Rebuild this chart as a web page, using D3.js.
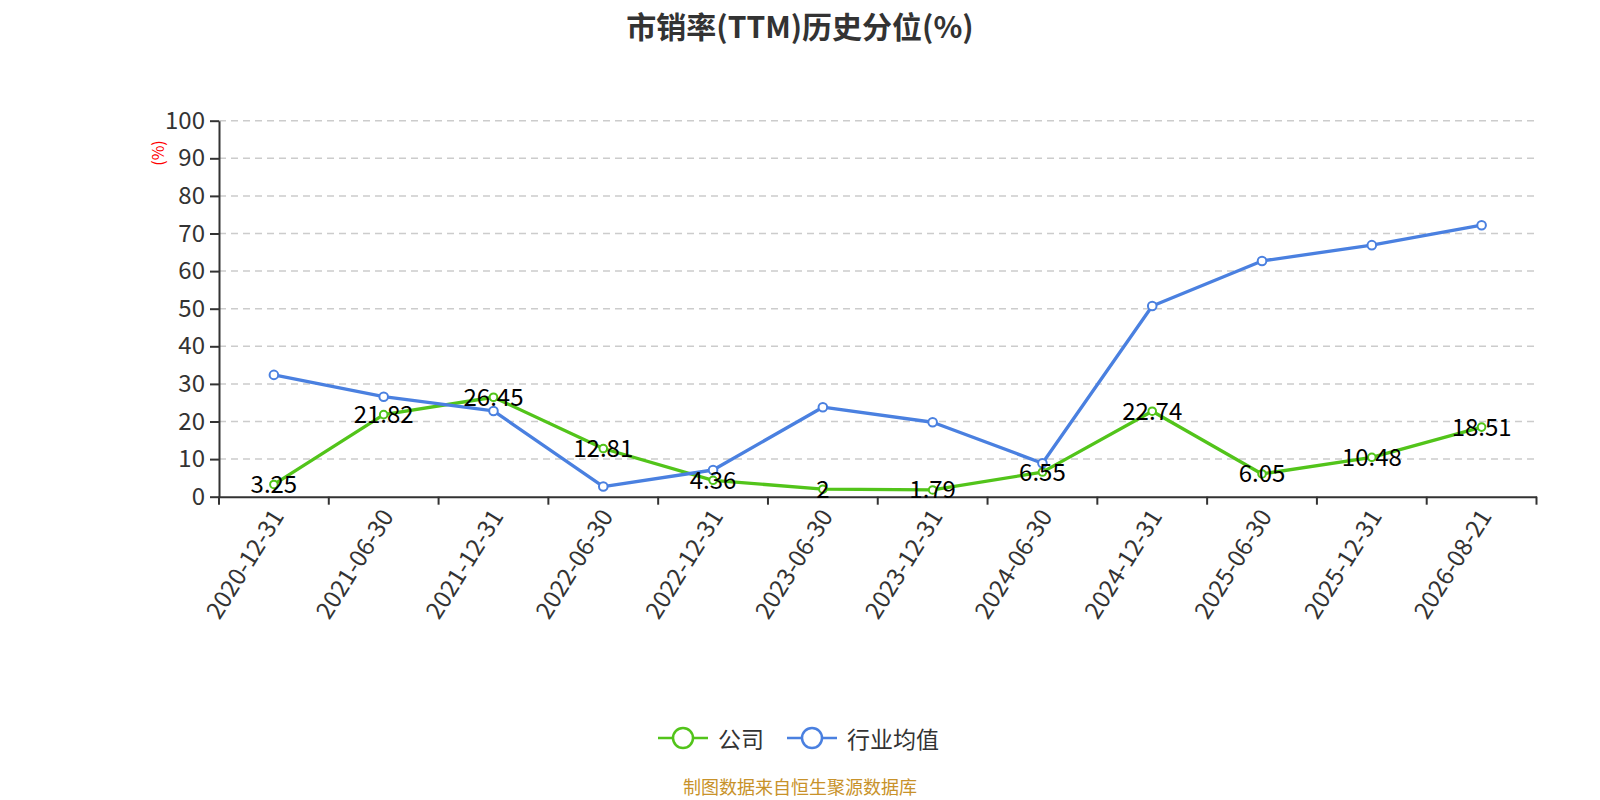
<!DOCTYPE html>
<html>
<head>
<meta charset="utf-8">
<script src="https://cdn.jsdelivr.net/npm/d3@7/dist/d3.min.js"></script>
<style>
html,body{margin:0;padding:0;background:#fff;}
svg{display:block;font-family:"Noto Sans CJK SC","Noto Sans",sans-serif;}
</style>
</head>
<body>
<svg id="chart" width="1600" height="800"></svg>
<script>
const categories = ["2020-12-31","2021-06-30","2021-12-31","2022-06-30","2022-12-31","2023-06-30","2023-12-31","2024-06-30","2024-12-31","2025-06-30","2025-12-31","2026-08-21"];
const companyValues = [3.25,21.82,26.45,12.81,4.36,2,1.79,6.55,22.74,6.05,10.48,18.51];
const industryValues = [32.4,26.6,22.8,2.7,7.1,23.8,19.8,8.9,50.7,62.7,66.9,72.2];
const yTicks = [0,10,20,30,40,50,60,70,80,90,100];
const seriesNames = ["公司","行业均值"];
const colors = ["#52c41a","#4a80e0"];

const svg = d3.select("#chart");
const margin = {left:219, right:1536.5, top:120.7, bottom:496.7};

const x = d3.scaleBand().domain(categories).range([margin.left, margin.right]);
const y = d3.scaleLinear().domain([0,100]).range([margin.bottom, margin.top]);

// title
svg.append("text").attr("x",800).attr("y",25).attr("text-anchor","middle")
  .attr("dominant-baseline","central").attr("font-size",30).attr("font-weight","bold")
  .attr("fill","#333").text("市销率(TTM)历史分位(%)");

// grid
svg.append("g").selectAll("line").data(yTicks.filter(d=>d>0)).join("line")
  .attr("x1",margin.left).attr("x2",margin.right)
  .attr("y1",d=>y(d)).attr("y2",d=>y(d))
  .attr("stroke","#ccc").attr("stroke-width",1.5).attr("stroke-dasharray","7,5");

// y axis
const yAxis = svg.append("g").attr("transform",`translate(${margin.left},0)`)
  .call(d3.axisLeft(y).tickValues(yTicks).tickSize(9).tickPadding(5).tickSizeOuter(0));
yAxis.select(".domain").attr("stroke","#333").attr("stroke-width",2);
yAxis.selectAll(".tick line").attr("stroke","#333").attr("stroke-width",2);
yAxis.selectAll(".tick text").attr("font-size",24).attr("fill","#333")
  .attr("font-family","'Noto Sans CJK SC','Noto Sans',sans-serif");

// y axis name
svg.append("text").attr("transform","translate(157,153) rotate(-90)")
  .attr("text-anchor","middle").attr("dominant-baseline","central")
  .attr("font-size",16).attr("fill","#f00").text("(%)");

// x axis
const xAxis = svg.append("g").attr("transform",`translate(0,${margin.bottom})`)
  .call(d3.axisBottom(x).tickSize(0).tickSizeOuter(0));
xAxis.select(".domain").attr("stroke","#333").attr("stroke-width",2);
// boundary ticks
const bounds = categories.map(c=>x(c)).concat([margin.right]);
xAxis.selectAll(".bt").data(bounds).join("line").attr("class","bt")
  .attr("x1",d=>d).attr("x2",d=>d).attr("y1",0).attr("y2",8)
  .attr("stroke","#333").attr("stroke-width",2);
xAxis.selectAll(".tick text")
  .attr("font-size",24).attr("fill","#333")
  .attr("font-family","'Noto Sans CJK SC','Noto Sans',sans-serif")
  .attr("text-anchor","end").attr("dominant-baseline","central")
  .attr("y",0).attr("dy",null)
  .attr("transform","translate(2,14) rotate(-58)");

const cx = d => x(d) + x.bandwidth()/2;

function drawSeries(vals, color, r) {
  const line = d3.line().x((d,i)=>cx(categories[i])).y(d=>y(d));
  svg.append("path").datum(vals).attr("d",line).attr("fill","none")
    .attr("stroke",color).attr("stroke-width",3.3).attr("stroke-linejoin","round");
  svg.append("g").selectAll("circle").data(vals).join("circle")
    .attr("cx",(d,i)=>cx(categories[i])).attr("cy",d=>y(d)).attr("r",r)
    .attr("fill","#fff").attr("stroke",color).attr("stroke-width",2);
}
drawSeries(companyValues, colors[0], 3.8);
drawSeries(industryValues, colors[1], 4.3);

// labels for company
svg.append("g").selectAll("text").data(companyValues).join("text")
  .attr("x",(d,i)=>cx(categories[i])).attr("y",d=>y(d)-2)
  .attr("text-anchor","middle").attr("dominant-baseline","central")
  .attr("font-size",24).attr("fill","#000").text(d=>d);

// legend
const legendItems = [
  {name:seriesNames[0], color:colors[0], x0:658, tx:718},
  {name:seriesNames[1], color:colors[1], x0:787, tx:847}
];
const ly = 738;
const lg = svg.append("g");
legendItems.forEach(it=>{
  lg.append("line").attr("x1",it.x0).attr("x2",it.x0+50).attr("y1",ly).attr("y2",ly)
    .attr("stroke",it.color).attr("stroke-width",2.5);
  lg.append("circle").attr("cx",it.x0+25).attr("cy",ly).attr("r",10)
    .attr("fill","#fff").attr("stroke",it.color).attr("stroke-width",2.5);
  lg.append("text").attr("x",it.tx).attr("y",ly).attr("dominant-baseline","central")
    .attr("font-size",23).attr("fill","#333").text(it.name);
});

// footer
svg.append("text").attr("x",800).attr("y",786).attr("text-anchor","middle")
  .attr("dominant-baseline","central").attr("font-size",18).attr("fill","#c8922a")
  .text("制图数据来自恒生聚源数据库");
</script>
</body>
</html>
